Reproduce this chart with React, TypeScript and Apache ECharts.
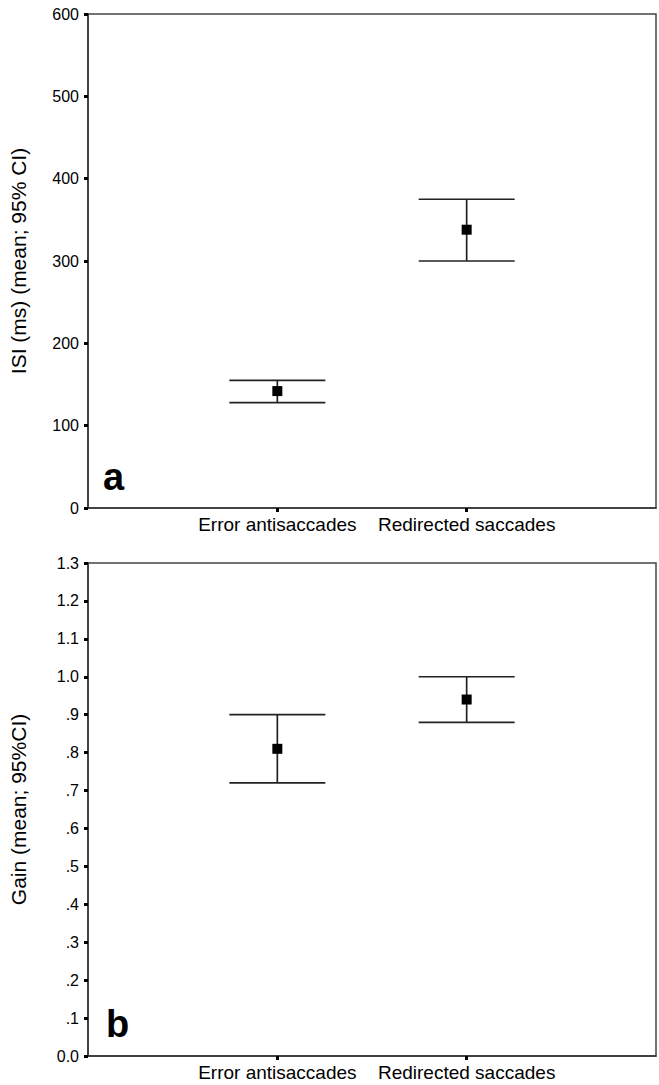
import React, { useEffect, useRef } from "react";
import * as echarts from "echarts";

const categories = ["Error antisaccades", "Redirected saccades"];
const categoryPos = [1, 2];

const isiMean = [142, 338];
const isiLower = [128, 300];
const isiUpper = [155, 375];

const gainMean = [0.81, 0.94];
const gainLower = [0.72, 0.88];
const gainUpper = [0.9, 1.0];

const isiTitle = "ISI (ms) (mean; 95% CI)";
const gainTitle = "Gain (mean; 95%CI)";
const panelLetters = ["a", "b"];

const FONT = "'Liberation Sans', Arial, sans-serif";

function errorBarRender(params: any, api: any) {
  const x = api.value(0);
  const pLo = api.coord([x, api.value(1)]);
  const pHi = api.coord([x, api.value(2)]);
  const half = 48;
  const style = { stroke: "#222", lineWidth: 1.7 };
  return {
    type: "group",
    children: [
      { type: "line", shape: { x1: pLo[0], y1: pLo[1], x2: pHi[0], y2: pHi[1] }, style },
      { type: "line", shape: { x1: pHi[0] - half, y1: pHi[1], x2: pHi[0] + half, y2: pHi[1] }, style },
      { type: "line", shape: { x1: pLo[0] - half, y1: pLo[1], x2: pLo[0] + half, y2: pLo[1] }, style },
    ],
  };
}

export default function App() {
  const ref = useRef<HTMLDivElement>(null);
  useEffect(() => {
    if (!ref.current) return;
    const chart = echarts.init(ref.current, null, { renderer: "svg" });

    const xAxisBase = (gridIndex: number) => ({
      type: "value",
      gridIndex,
      min: 0,
      max: 3,
      interval: 1,
      splitLine: { show: false },
      axisLine: { show: true, lineStyle: { color: "#333", width: 1.5 } },
      axisTick: { show: true, customValues: categoryPos, length: 4, lineStyle: { color: "#000", width: 3 } },
      axisLabel: {
        customValues: categoryPos,
        formatter: (v: number) => categories[Math.round(v) - 1] ?? "",
        color: "#000",
        fontFamily: FONT,
        fontSize: 19,
        margin: 7,
      },
    });

    const yLabel = { color: "#000", fontFamily: FONT, fontSize: 16, margin: 9 };
    const yTick = { show: true, length: 4, lineStyle: { color: "#000", width: 3 } };
    const yLine = { show: true, lineStyle: { color: "#333", width: 1.5 } };

    const option: any = {
      animation: false,
      backgroundColor: "#fff",
      grid: [
        { left: 87, top: 14, width: 569, height: 494, show: true, borderColor: "#444", borderWidth: 1.5, backgroundColor: "transparent" },
        { left: 87, top: 563, width: 569, height: 493, show: true, borderColor: "#444", borderWidth: 1.5, backgroundColor: "transparent" },
      ],
      xAxis: [xAxisBase(0), xAxisBase(1)],
      yAxis: [
        {
          type: "value",
          gridIndex: 0,
          min: 0,
          max: 600,
          interval: 100,
          splitLine: { show: false },
          axisLine: yLine,
          axisTick: yTick,
          axisLabel: yLabel,
          name: isiTitle,
          nameLocation: "middle",
          nameGap: 59,
          nameTextStyle: { color: "#000", fontFamily: FONT, fontSize: 21 },
        },
        {
          type: "value",
          gridIndex: 1,
          min: 0,
          max: 1.3,
          interval: 0.1,
          splitLine: { show: false },
          axisLine: yLine,
          axisTick: yTick,
          axisLabel: {
            ...yLabel,
            formatter: (v: number) => {
              const s = v.toFixed(1);
              if (v === 0 || v >= 1) return s;
              return s.replace(/^0/, "");
            },
          },
          name: gainTitle,
          nameLocation: "middle",
          nameGap: 59,
          nameTextStyle: { color: "#000", fontFamily: FONT, fontSize: 21 },
        },
      ],
      series: [
        {
          type: "custom",
          xAxisIndex: 0,
          yAxisIndex: 0,
          renderItem: errorBarRender,
          data: categoryPos.map((x, i) => [x, isiLower[i], isiUpper[i]]),
          z: 2,
        },
        {
          type: "scatter",
          xAxisIndex: 0,
          yAxisIndex: 0,
          symbol: "rect",
          symbolSize: 10,
          itemStyle: { color: "#000", opacity: 1 },
          data: categoryPos.map((x, i) => [x, isiMean[i]]),
          z: 3,
        },
        {
          type: "custom",
          xAxisIndex: 1,
          yAxisIndex: 1,
          renderItem: errorBarRender,
          data: categoryPos.map((x, i) => [x, gainLower[i], gainUpper[i]]),
          z: 2,
        },
        {
          type: "scatter",
          xAxisIndex: 1,
          yAxisIndex: 1,
          symbol: "rect",
          symbolSize: 10,
          itemStyle: { color: "#000", opacity: 1 },
          data: categoryPos.map((x, i) => [x, gainMean[i]]),
          z: 3,
        },
      ],
      graphic: [
        {
          type: "text",
          left: 103,
          top: 458,
          style: { text: panelLetters[0], fontFamily: FONT, fontWeight: "bold", fontSize: 38, fill: "#000" },
        },
        {
          type: "text",
          left: 106,
          top: 1005,
          style: { text: panelLetters[1], fontFamily: FONT, fontWeight: "bold", fontSize: 38, fill: "#000" },
        },
      ],
    };
    chart.setOption(option);
    return () => chart.dispose();
  }, []);
  return (
    <div
      ref={ref}
      style={{ position: "absolute", left: 0, top: 0, width: 659, height: 1085, background: "#fff" }}
    />
  );
}
